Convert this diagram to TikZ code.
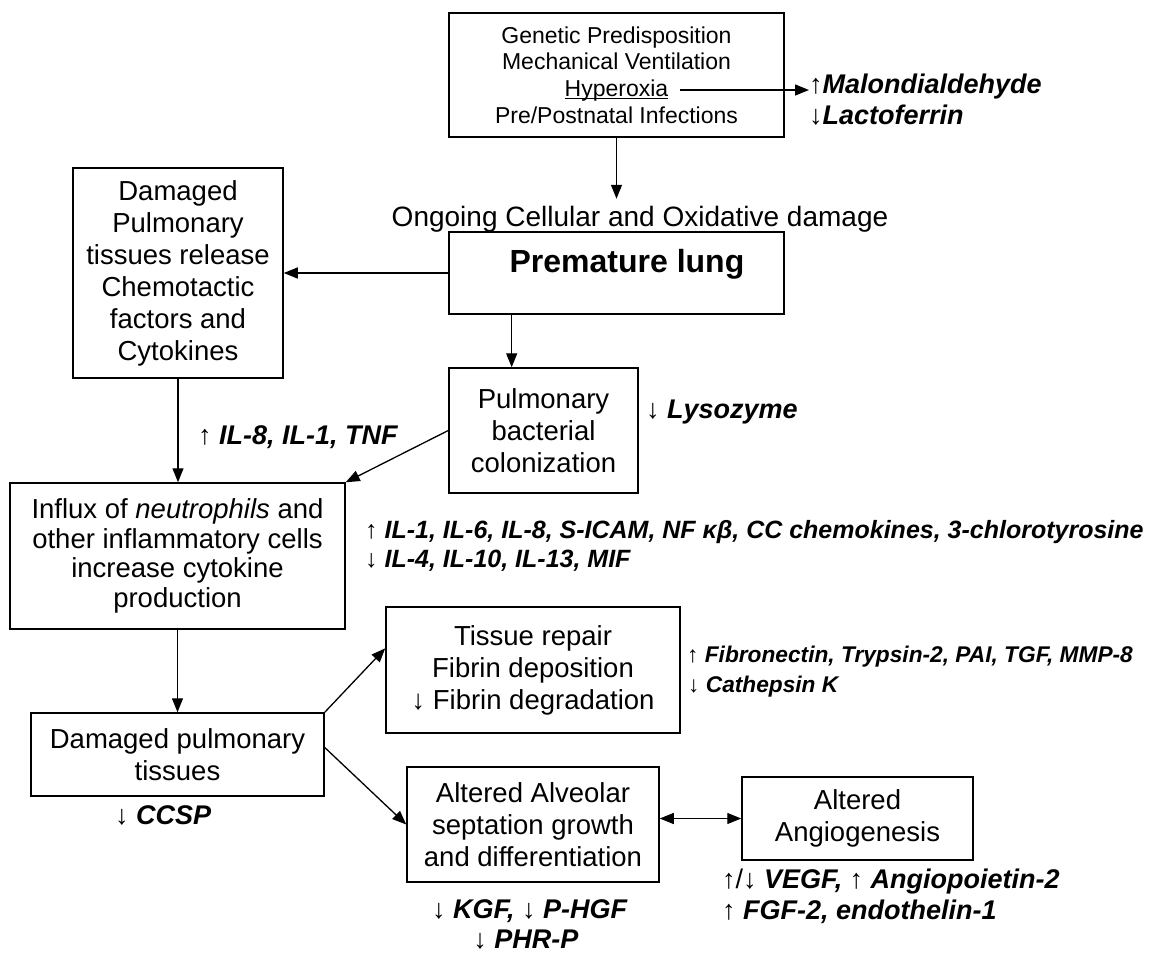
\documentclass[tikz,border=0pt]{standalone}
\usepackage{fontspec}
\setmainfont{Liberation Sans}
\usetikzlibrary{arrows.meta,calc}
\newcommand{\bfit}[1]{\textbf{\textit{#1}}}
\newcommand{\ulword}[1]{\setbox0\hbox{#1}\rlap{\rule[-2.5pt]{\wd0}{0.9pt}}\box0}
\begin{document}
\begin{tikzpicture}[x=1pt,y=-1pt,
  box/.style={draw,line width=1.5pt,align=center,inner sep=0pt,font=\fontsize{27.5}{32}\selectfont},
  lbl/.style={anchor=west,inner sep=0pt,font=\fontsize{27}{30}\selectfont},
  arr/.style={line width=1.3pt,-{Triangle[length=14pt,width=11pt]}},
  dbl/.style={line width=1.3pt,{Triangle[length=14pt,width=11pt]}-{Triangle[length=14pt,width=11pt]}}]
\useasboundingbox (0,0) rectangle (1160,956);
\node[box,minimum width=335,minimum height=124,font=\fontsize{23}{26.8}\selectfont] (cause) at (616.5,75) {Genetic Predisposition\\Mechanical Ventilation\\\ulword{Hyperoxia}\\Pre/Postnatal Infections};
\node[lbl] (malon) at (809,87) {↑\bfit{Malondialdehyde}};
\node[lbl] (lacto) at (809,115) {↓\bfit{Lactoferrin}};
\node[font=\fontsize{28}{30}\selectfont,inner xsep=0pt,inner ysep=7pt] (ongoing) at (640,219) {Ongoing Cellular and Oxidative damage};
\node[box,minimum width=335,minimum height=82] (lung) at (616.5,273) {};
\node[font=\fontsize{32}{34}\selectfont\bfseries] (lungtxt) at (627,264) {Premature lung};
\node[box,minimum width=210,minimum height=210] (release) at (178,273) {Damaged\\Pulmonary\\tissues release\\Chemotactic\\factors and\\Cytokines};
\node[box,minimum width=189,minimum height=125] (bact) at (543.5,430.5) {Pulmonary\\bacterial\\colonization};
\node[lbl] (lyso) at (646,412) {↓ \bfit{Lysozyme}};
\node[lbl] (il8) at (198,437) {↑ \bfit{IL-8, IL-1, TNF}};
\node[box,minimum width=335,minimum height=146,font=\fontsize{27.5}{29.7}\selectfont] (influx) at (177.5,556) {Influx of \textit{neutrophils} and\\other inflammatory cells\\increase cytokine\\production};
\node[lbl,font=\fontsize{25}{28}\selectfont] (cyto1) at (365,532) {↑ \bfit{IL-1, IL-6, IL-8, S-ICAM, NF κβ, CC chemokines, 3-chlorotyrosine}};
\node[lbl,font=\fontsize{25}{28}\selectfont] (cyto2) at (365,561) {↓ \bfit{IL-4, IL-10, IL-13, MIF}};
\node[box,minimum width=293,minimum height=83] (damaged) at (177.5,754.5) {Damaged pulmonary\\tissues};
\node[lbl] (ccsp) at (115,815) {↓ \bfit{CCSP}};
\node[box,minimum width=294,minimum height=126] (repair) at (533,670) {Tissue repair\\Fibrin deposition\\↓ Fibrin degradation};
\node[lbl,font=\fontsize{22.7}{26}\selectfont] (fibro1) at (687,657) {↑ \bfit{Fibronectin, Trypsin-2, PAI, TGF, MMP-8}};
\node[lbl,font=\fontsize{22.7}{26}\selectfont] (fibro2) at (688,687) {↓ \bfit{Cathepsin K}};
\node[box,minimum width=252,minimum height=115] (alveolar) at (533,824.5) {Altered Alveolar\\septation growth\\and differentiation};
\node[lbl,anchor=center] (kgf1) at (530,911) {↓ \bfit{KGF,} ↓ \bfit{P-HGF}};
\node[lbl,anchor=center] (kgf2) at (526,940) {↓ \bfit{PHR-P}};
\node[box,minimum width=231,minimum height=83] (angio) at (857.5,818.5) {Altered\\Angiogenesis};
\node[lbl] (vegf1) at (722,882) {↑/↓ \bfit{VEGF,} ↑ \bfit{Angiopoietin-2}};
\node[lbl] (vegf2) at (722,912) {↑ \bfit{FGF-2, endothelin-1}};
\coordinate (hyp) at (680,90);
\coordinate (b1) at ($(bact.north west)!0.333!(bact.north east)$);
\draw[arr] (hyp) -- (hyp -| malon.west);
\draw[arr] (cause.south) -- (cause.south |- ongoing.north);
\draw[arr] (lung.west) -- (release.east);
\draw[arr] (b1 |- lung.south) -- (b1);
\draw[arr] (release.south) -- (release.south |- influx.north);
\draw[arr] (bact.west) -- (influx.north east);
\draw[arr] (influx.south) -- (damaged.north);
\draw[arr] (damaged.north east) -- ($(repair.north west)!0.33!(repair.south west)$);
\draw[arr] ([yshift=7pt]damaged.east) -- (alveolar.west);
\draw[dbl] (angio.west -| alveolar.east) -- (angio.west);
\end{tikzpicture}
\end{document}
